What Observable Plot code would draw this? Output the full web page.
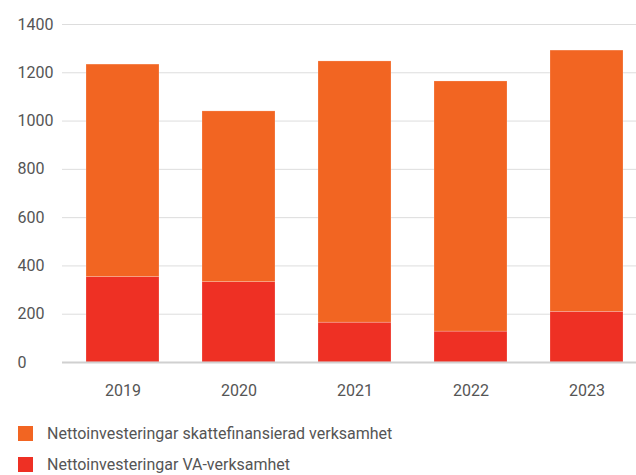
<!DOCTYPE html>
<html><head><meta charset="utf-8">
<script src="https://cdn.jsdelivr.net/npm/d3@7"></script>
<script src="https://cdn.jsdelivr.net/npm/@observablehq/plot@0.6"></script>
<style>
body{margin:0;width:636px;height:475px;overflow:hidden;background:#fff;font-family:Roboto,sans-serif;}
#chart svg{display:block;}
#legend{margin-top:8px;}
.item{display:flex;align-items:center;height:31px;margin-left:18px;font-size:16px;color:#555;}
.sw{width:15px;height:15px;margin-right:14px;flex:none;}
</style></head>
<body><div id="chart"></div><div id="legend"></div>
<script>
const years = ["2019","2020","2021","2022","2023"];
const seriesNames = ["Nettoinvesteringar skattefinansierad verksamhet","Nettoinvesteringar VA-verksamhet"];
const skatt = [880, 707, 1082, 1036, 1082];
const va = [354, 333, 165, 128, 210];
const colors = ["#f26522", "#ee3024"];
const yTicks = [0, 200, 400, 600, 800, 1000, 1200, 1400];

const data = [];
years.forEach((y, i) => {
  data.push({year: y, series: seriesNames[1], value: va[i]});
  data.push({year: y, series: seriesNames[0], value: skatt[i]});
});

const chart = Plot.plot({
  width: 636, height: 410,
  marginLeft: 62, marginRight: 0, marginTop: 24, marginBottom: 48,
  style: {fontFamily: "Roboto, sans-serif", fontSize: "16px", color: "#555", overflow: "visible"},
  x: {domain: years, range: [62, 646], paddingInner: 0.375, paddingOuter: 0.1875, label: null, axis: null},
  y: {domain: [0, 1400], label: null, axis: null},
  color: {domain: seriesNames, range: colors},
  marks: [
    Plot.gridY(yTicks.slice(1), {stroke: "#ddd", strokeOpacity: 1, strokeWidth: 1}),
    Plot.barY(data, {x: "year", y: "value", fill: "series", order: [seriesNames[1], seriesNames[0]], stroke: "#fff", strokeOpacity: 0.35, strokeWidth: 0.6}),
    Plot.ruleY([0], {stroke: "#d0d0d0", strokeWidth: 2}),
    Plot.text(yTicks, {y: d => d, text: d => String(d), frameAnchor: "left", dx: -45, textAnchor: "start", fill: "#555", fontSize: 16}),
    Plot.axisX({tickSize: 0, tickPadding: 22, fontSize: 16, fill: "#555", label: null})
  ]
});
document.getElementById("chart").appendChild(chart);

const legend = document.getElementById("legend");
seriesNames.forEach((n, i) => {
  const d = document.createElement("div");
  d.className = "item";
  d.innerHTML = `<span class="sw" style="background:${colors[i]}"></span><span>${n}</span>`;
  legend.appendChild(d);
});
</script></body></html>
